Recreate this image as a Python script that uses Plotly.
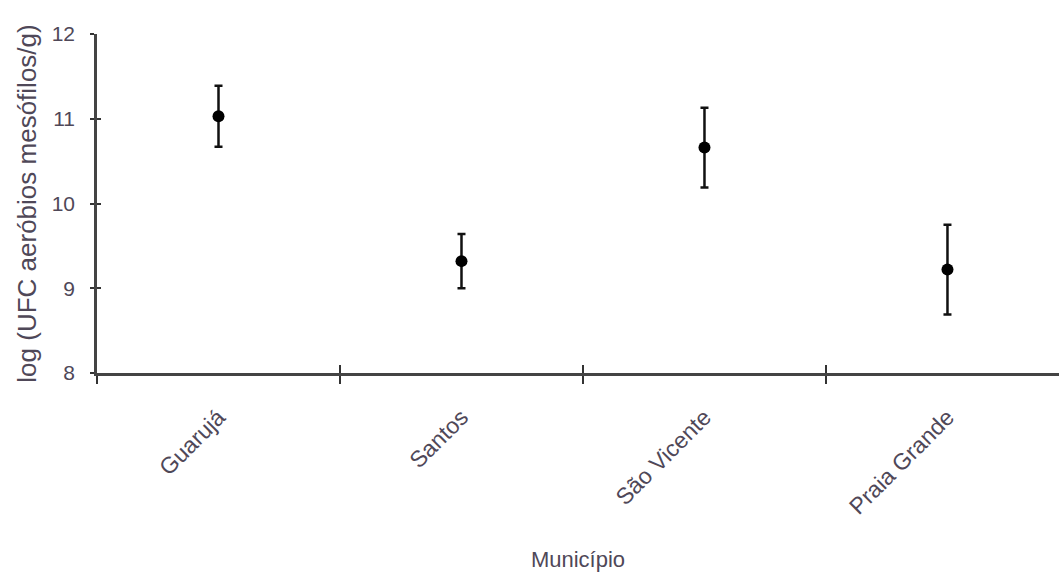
import plotly.graph_objects as go

municipios = ["Guarujá", "Santos", "São Vicente", "Praia Grande"]
media = [11.03, 9.32, 10.66, 9.22]
erro = [0.36, 0.32, 0.47, 0.53]
y_ticks = [8, 9, 10, 11, 12]

fig = go.Figure()
fig.add_trace(go.Scatter(
    x=municipios, y=media, mode="markers",
    marker=dict(color="black", size=12),
    error_y=dict(type="data", array=erro, visible=True, color="#111", thickness=2.5, width=4),
    showlegend=False, hoverinfo="x+y",
))
# invisible trace on overlaid axes, only to draw the inner halves of the tick marks
fig.add_trace(go.Scatter(
    x=municipios, y=media, mode="markers", marker=dict(opacity=0),
    xaxis="x2", yaxis="y2", showlegend=False, hoverinfo="skip",
))

font_color = "#4f4858"
fig.update_layout(
    width=1059, height=576,
    margin=dict(l=97, r=0, t=34, b=203),
    paper_bgcolor="white", plot_bgcolor="white",
    font=dict(family="Liberation Sans, Arial, sans-serif", color=font_color, size=21),
    xaxis=dict(
        type="category", range=[-0.5, 3.459],
        tickson="boundaries", ticks="outside", ticklen=8, tickwidth=2, tickcolor="#333",
        showline=True, linecolor="#444", linewidth=2.5, showgrid=False, zeroline=False,
        tickangle=-45, tickfont=dict(size=23, color=font_color), ticklabelstandoff=19,
        title=dict(text="Município", font=dict(size=22, color=font_color), standoff=34),
    ),
    yaxis=dict(
        range=[8, 12], tickvals=y_ticks, ticks="outside", ticklen=4, tickwidth=2, tickcolor="#333",
        showline=True, linecolor="#444", linewidth=2.5, showgrid=False, zeroline=False,
        tickfont=dict(size=21, color=font_color), ticklabelstandoff=11,
        title=dict(text="log (UFC aeróbios mesófilos/g)", font=dict(size=26, color=font_color), standoff=8),
    ),
    xaxis2=dict(
        type="category", range=[-0.5, 3.459], overlaying="x", side="bottom",
        tickson="boundaries", ticks="inside", ticklen=8, tickwidth=2, tickcolor="#333",
        showticklabels=False, showline=False, showgrid=False, zeroline=False,
    ),
    yaxis2=dict(
        range=[8, 12], tickvals=y_ticks, overlaying="y", side="left",
        ticks="inside", ticklen=4, tickwidth=2, tickcolor="#333",
        showticklabels=False, showline=False, showgrid=False, zeroline=False,
    ),
)

fig.write_html(
    "out.html",
    config={"displayModeBar": False},
    post_script="document.body.style.margin='0';document.body.style.overflow='hidden';",
)
